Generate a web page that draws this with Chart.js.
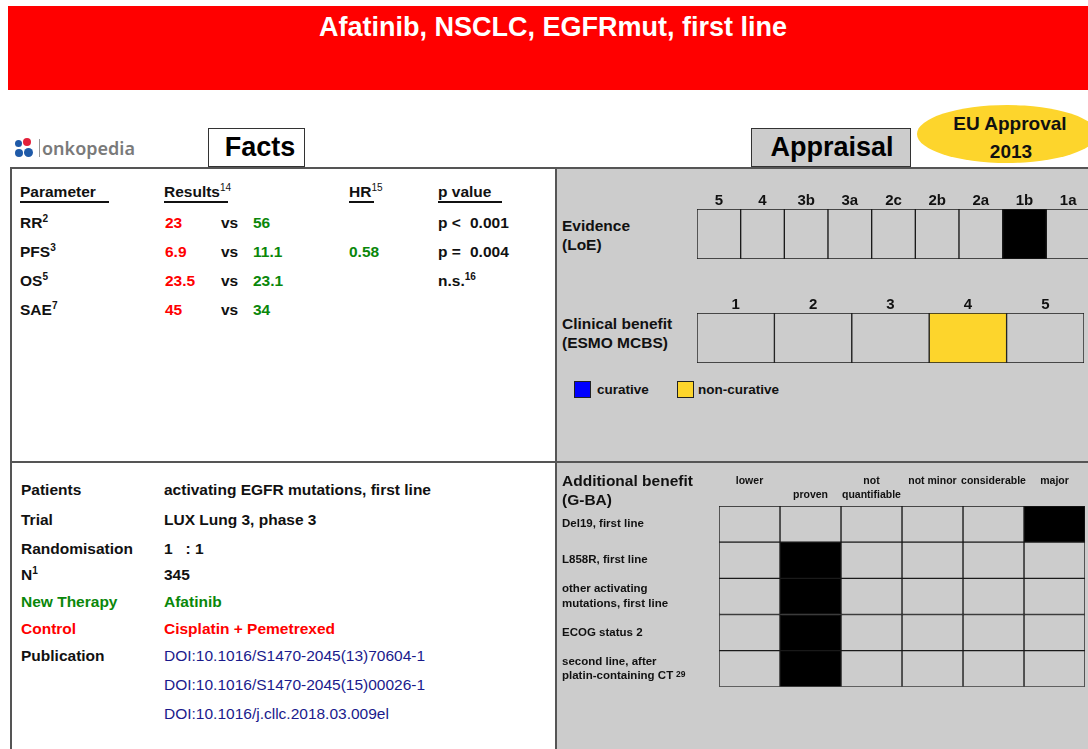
<!DOCTYPE html>
<html>
<head>
<meta charset="utf-8">
<script src="https://cdn.jsdelivr.net/npm/chart.js@4.4.1/dist/chart.umd.min.js"></script>
<style>
body { margin: 0; width: 1088px; height: 749px; overflow: hidden; position: relative; background: #fff;
       font-family: "Liberation Sans", Arial, sans-serif; font-weight: bold; color: #111; }
.t { position: absolute; line-height: 1; white-space: nowrap; }
.t sup { font-size: 0.65em; position: relative; top: -0.6em; vertical-align: baseline; line-height: 0; }
.box { position: absolute; box-sizing: border-box; border: 2px solid #555; }
.dot { position: absolute; border-radius: 50%; }
canvas { position: absolute; }
</style>
</head>
<body>

<div class="box" style="left:8px;top:6px;width:1090px;height:84px;background:#ff0000;border:none"></div>

<div class="box" style="left:10px;top:167px;width:547px;height:296px;background:#fff"></div>
<div class="box" style="left:555px;top:167px;width:545px;height:296px;background:#cccccc"></div>
<div class="box" style="left:10px;top:461px;width:547px;height:300px;background:#fff"></div>
<div class="box" style="left:555px;top:461px;width:545px;height:300px;background:#cccccc"></div>

<div class="box" style="left:208px;top:128px;width:97px;height:39px;background:#fff;border:1.5px solid #333"></div>
<div class="box" style="left:751px;top:128px;width:160px;height:39px;background:#cccccc;border:1.5px solid #333"></div>
<div class="box" style="left:917px;top:105px;width:180px;height:58px;background:#fdd52c;border:none;border-radius:50%"></div>

<!-- logo -->
<div class="dot" style="left:15px;top:140px;width:7px;height:7px;background:#1f5aa8"></div>
<div class="dot" style="left:23px;top:138px;width:8px;height:8px;background:#e3203a"></div>
<div class="dot" style="left:15px;top:149px;width:8px;height:8px;background:#1f5aa8"></div>
<div class="dot" style="left:24px;top:148px;width:9px;height:9px;background:#1f5aa8"></div>
<div class="box" style="left:39px;top:139px;width:1px;height:18px;border:none;background:#999"></div>

<!-- legend swatches -->
<div class="box" style="left:574px;top:381px;width:17px;height:17px;background:#0000ff;border:1px solid #222"></div>
<div class="box" style="left:677px;top:381px;width:17px;height:17px;background:#fdd52c;border:1px solid #222"></div>

<canvas id="evidenceChart" width="393" height="79" style="left:697px;top:180px"></canvas>
<canvas id="esmoChart" width="387" height="79" style="left:697px;top:284px"></canvas>
<canvas id="gbaChart" width="523" height="227" style="left:562px;top:470px"></canvas>

<script>
// Evidenzgrad (LoE)
const evidenceLevels = ['5', '4', '3b', '3a', '2c', '2b', '2a', '1b', '1a'];
const evidenceSelected = '1b';

// ESMO MCBS
const esmoGrades = ['1', '2', '3', '4', '5'];
const esmoSelected = '4';

// G-BA Zusatznutzen
const gbaCategories = [['lower', ''], ['', 'proven'], ['not', 'quantifiable'], ['not minor', ''], ['considerable', ''], ['major', '']];
const gbaSubgroups = [['Del19, first line'], ['L858R, first line'], ['other activating', 'mutations, first line'], ['ECOG status 2'], ['second line, after', 'platin-containing CT']];
const gbaSelected = [5, 1, 1, 1, 1]; // Kategorie je Subgruppe

// Facts
const parameters = ['RR<sup>2</sup>', 'PFS<sup>3</sup>', 'OS<sup>5</sup>', 'SAE<sup>7</sup>'];
const controlResults = ['23', '6.9', '23.5', '45'];
const newResults = ['56', '11.1', '23.1', '34'];
const hazardRatios = ['', '0.58', '', ''];
const pSigns = ['p &lt;', 'p =', 'n.s.<sup>16</sup>', ''];
const pValues = ['0.001', '0.004', '', ''];

const trialLabels = ['Patients', 'Trial', 'Randomisation', 'N<sup>1</sup>', 'New Therapy', 'Control', 'Publication', '', ''];
const trialValues = ['activating EGFR mutations, first line', 'LUX Lung 3, phase 3', '1&nbsp;&nbsp;&nbsp;: 1', '345', 'Afatinib',
    'Cisplatin + Pemetrexed', 'DOI:10.1016/S1470-2045(13)70604-1', 'DOI:10.1016/S1470-2045(15)00026-1', 'DOI:10.1016/j.cllc.2018.03.009el'];

const RED = '#ff0000', GREEN = '#0a870a', NAVY = '#1a1a8c';
const GRID = '#1a1a1a', CELL = '#cccccc';

function txt(html, x, y, size, color, opts) {
    opts = opts || {};
    var d = document.createElement('div');
    d.className = 't';
    d.innerHTML = html;
    d.style.fontSize = size + 'px';
    d.style.top = (y - 0.49 * size) + 'px';
    if (opts.center) {
        d.style.left = (x - 300) + 'px';
        d.style.width = '600px';
        d.style.textAlign = 'center';
    } else {
        d.style.left = x + 'px';
    }
    if (color) d.style.color = color;
    if (opts.weight) d.style.fontWeight = opts.weight;
    if (opts.family) d.style.fontFamily = opts.family;
    document.body.appendChild(d);
    return d;
}

function line(x1, x2, y) {
    var d = document.createElement('div');
    d.className = 'box';
    d.style.cssText = 'left:' + x1 + 'px;top:' + y + 'px;width:' + (x2 - x1) + 'px;height:1.5px;background:#111;border:none';
    document.body.appendChild(d);
}

// Kopf
txt('Afatinib, NSCLC, EGFRmut, first line', 553, 27, 27, '#fff', { center: true });
txt('onkopedia', 42, 148, 18, '#7a7a7a', { weight: 600, family: '"Noto Sans", sans-serif' });
txt('Facts', 260, 147, 27, '#000', { center: true });
txt('Appraisal', 832, 147, 27, '#000', { center: true });
txt('EU Approval', 1010, 123, 19, '#111', { center: true });
txt('2013', 1011, 151, 19, '#111', { center: true });

// Facts-Tabelle
txt('Parameter', 20, 192, 15.5);
txt('Results<sup style="font-weight:normal">14</sup>', 164, 192, 15.5);
txt('HR<sup style="font-weight:normal">15</sup>', 349, 192, 15.5);
txt('p value', 438, 192, 15.5);
line(20, 109, 201);
line(164, 228, 201);
line(349, 374, 201);
line(438, 502, 201);

parameters.forEach(function (p, i) {
    var y = 223 + i * 29;
    txt(p, 20, y, 15.5);
    txt(controlResults[i], 165, y, 15.5, RED);
    txt('vs', 221, y, 15.5);
    txt(newResults[i], 253, y, 15.5, GREEN);
    if (hazardRatios[i]) txt(hazardRatios[i], 349, y, 15.5, GREEN);
    if (pSigns[i]) txt(pSigns[i], 438, y, 15.5);
    if (pValues[i]) txt(pValues[i], 470, y, 15.5);
});

var trialY = [490, 520, 549, 575, 602, 629, 656, 685, 714];
trialLabels.forEach(function (l, i) {
    var col = i === 4 ? GREEN : (i === 5 ? RED : '#111');
    if (l) txt(l, 21, trialY[i], 15.5, col);
    var vcol = i === 4 ? GREEN : (i === 5 ? RED : (i >= 6 ? NAVY : '#111'));
    txt(trialValues[i], 164, trialY[i], 15.5, vcol, i >= 6 ? { weight: 'normal' } : {});
});

// Appraisal-Beschriftungen
txt('Evidence', 562, 226, 15.5);
txt('(LoE)', 562, 245, 15.5);
txt('Clinical benefit', 562, 324, 15.5);
txt('(ESMO MCBS)', 562, 343, 15.5);
txt('curative', 597, 390, 13.5);
txt('non-curative', 698, 390, 13.5);
txt('Additional benefit', 562, 481, 15.5);
txt('(G-BA)', 562, 500, 15.5);
txt('29', 676, 674, 8.5);

Chart.defaults.font.family = '"Liberation Sans", Arial, sans-serif';

function levelChart(id, labels, selected, fill) {
    return new Chart(document.getElementById(id), {
        type: 'bar',
        data: {
            labels: labels,
            datasets: [{
                data: labels.map(function () { return 1; }), // jede Stufe = eine Zelle
                backgroundColor: labels.map(function (l) { return l === selected ? fill : CELL; }),
                borderColor: GRID,
                borderWidth: 1,
                borderSkipped: false,
                barPercentage: 1,
                categoryPercentage: 1
            }]
        },
        options: {
            responsive: false,
            animation: false,
            devicePixelRatio: 1,
            plugins: { legend: { display: false }, tooltip: { enabled: false } },
            scales: {
                x: {
                    position: 'top',
                    grid: { display: false, drawTicks: false },
                    border: { display: false },
                    ticks: { color: '#111', padding: 1, maxRotation: 0, autoSkip: false,
                             font: { size: 15, weight: 'bold', lineHeight: 1 } },
                    afterFit: function (s) { s.height = 29; }
                },
                y: { display: false, min: 0, max: 1 }
            }
        }
    });
}

levelChart('evidenceChart', evidenceLevels, evidenceSelected, '#000000');
levelChart('esmoChart', esmoGrades, esmoSelected, '#fdd52c');

new Chart(document.getElementById('gbaChart'), {
    type: 'bar',
    data: {
        labels: gbaSubgroups,
        datasets: gbaCategories.map(function (c, ci) {
            return {
                data: gbaSubgroups.map(function () { return 1; }),
                backgroundColor: gbaSelected.map(function (s) { return s === ci ? '#000000' : CELL; }),
                borderColor: GRID,
                borderWidth: 1,
                borderSkipped: false,
                barPercentage: 1,
                categoryPercentage: 1
            };
        })
    },
    options: {
        indexAxis: 'y',
        responsive: false,
        animation: false,
        devicePixelRatio: 1,
        plugins: { legend: { display: false }, tooltip: { enabled: false } },
        scales: {
            x: { display: false, stacked: true, min: 0, max: gbaCategories.length },
            y: {
                stacked: true,
                grid: { display: false, drawTicks: false },
                border: { display: false },
                ticks: { crossAlign: 'far', autoSkip: false, color: '#111',
                         font: { size: 11.5, weight: 'bold', lineHeight: 1.25 } },
                afterFit: function (s) { s.width = 157; }
            },
            x2: {
                type: 'category',
                axis: 'x',
                labels: gbaCategories,
                position: 'top',
                offset: true,
                grid: { display: false, drawTicks: false },
                border: { display: false },
                ticks: { autoSkip: false, maxRotation: 0, minRotation: 0, padding: 4, color: '#111',
                         font: { size: 10.5, weight: 'bold', lineHeight: 1.3 } },
                afterFit: function (s) { s.height = 36; }
            }
        }
    }
});
</script>
</body>
</html>
